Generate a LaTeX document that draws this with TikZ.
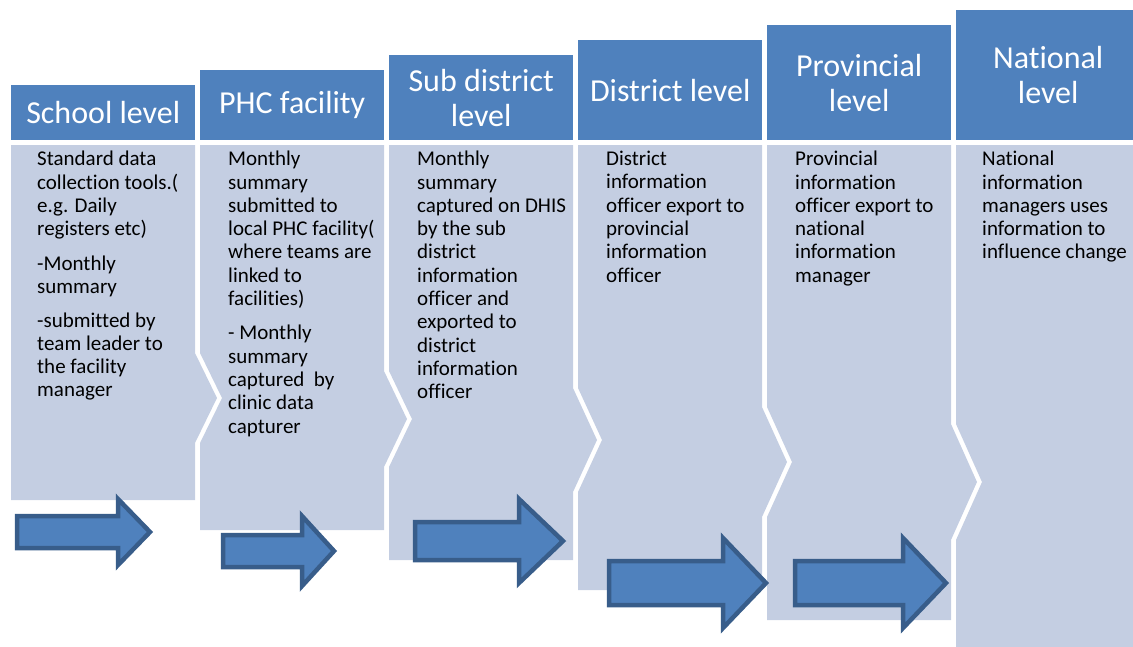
\documentclass[tikz,border=0pt]{standalone}
\usepackage{fontspec}
\setmainfont{Carlito}[Ligatures={NoCommon,NoRare,NoContextual}]
\definecolor{hdr}{HTML}{4F81BD}
\definecolor{bdy}{RGB}{196,206,226}
\definecolor{arrline}{HTML}{385D8A}
\tikzset{
  hdrbox/.style={fill=hdr, draw=none, text=white, inner sep=0pt, anchor=north west,
    minimum width=184pt, font=\fontsize{32}{35}\selectfont, align=center},
  bodyshape/.style={fill=bdy, draw=none},
  bodytext/.style={text=black, font=\fontsize{21}{23.3}\selectfont, align=left,
    inner sep=0pt, anchor=north west},
  blockarrow/.style={fill=hdr, draw=arrline, line width=4.5pt, line join=miter},
}
\begin{document}
\begin{tikzpicture}[x=1pt,y=-1pt]
\useasboundingbox (0,0) rectangle (1133,646);
\clip (0,0) rectangle (1133,646);

% headers
\node[hdrbox, minimum height=55pt] (h1) at (11,85) {School level};
\node[hdrbox, minimum height=70pt] (h2) at (200,70) {PHC facility};
\node[hdrbox, minimum height=85pt] (h3) at (389,55) {Sub district\\level};
\node[hdrbox, minimum height=100pt] (h4) at (578,40) {District level};
\node[hdrbox, minimum height=115pt] (h5) at (767,25) {Provincial\\level};
\node[hdrbox, minimum height=130pt] (h6) at (956,10) {National\\level};

% bodies
\path[bodyshape] (11,145)--(195,145)--(195,353)--(217,398)--(195,443)--(195,500)--(11,500)--cycle;
\path[bodyshape] (200,145)--(384,145)--(384,371)--(407,419)--(384,467)--(384,530)--(200,530)--(200,443)--(222,398)--(200,353)--cycle;
\path[bodyshape] (389,145)--(573,145)--(573,388)--(597,440)--(573,492)--(573,560)--(389,560)--(389,467)--(412,419)--(389,371)--cycle;
\path[bodyshape] (578,145)--(762,145)--(762,407)--(787,462)--(762,517)--(762,590)--(578,590)--(578,492)--(602,440)--(578,388)--cycle;
\path[bodyshape] (767,145)--(951,145)--(951,424)--(977,482)--(951,540)--(951,620)--(767,620)--(767,517)--(792,462)--(767,407)--cycle;
\path[bodyshape] (956,145)--(1140,145)--(1140,650)--(956,650)--(956,540)--(982,482)--(956,424)--cycle;

% body texts
\node[bodytext] (b1) at (37,151) {Standard data\\collection tools.(\\e.g. Daily\\registers etc)\\[11.5pt]-Monthly\\summary\\[10pt]-submitted by\\team leader to\\the facility\\manager};
\node[bodytext] (b2) at (228,151) {Monthly\\summary\\submitted to\\local PHC facility(\\where teams are\\linked to\\facilities)\\[11pt]- Monthly\\summary\\captured~ by\\clinic data\\capturer};
\node[bodytext] (b3) at (417,151) {Monthly\\summary\\captured on DHIS\\by the sub\\district\\information\\officer and\\exported to\\district\\information\\officer};
\node[bodytext] (b4) at (606,151) {District\\information\\officer export to\\provincial\\information\\officer};
\node[bodytext] (b5) at (795,151) {Provincial\\information\\officer export to\\national\\information\\manager};
\node[bodytext] (b6) at (982,151) {National\\information\\managers uses\\information to\\influence change};

% arrows
\path[blockarrow] (17,516)--(118,516)--(118,499)--(150,532)--(118,565)--(118,548)--(17,548)--cycle;
\path[blockarrow] (223,535)--(302,535)--(302,516)--(334,551)--(302,586)--(302,567)--(223,567)--cycle;
\path[blockarrow] (415,522)--(519,522)--(519,499)--(563,541)--(519,583)--(519,560)--(415,560)--cycle;
\path[blockarrow] (609,561)--(723,561)--(723,538)--(766,583)--(723,628)--(723,605)--(609,605)--cycle;
\path[blockarrow] (795,561)--(903,561)--(903,538)--(946,583)--(903,628)--(903,605)--(795,605)--cycle;
\end{tikzpicture}
\end{document}
